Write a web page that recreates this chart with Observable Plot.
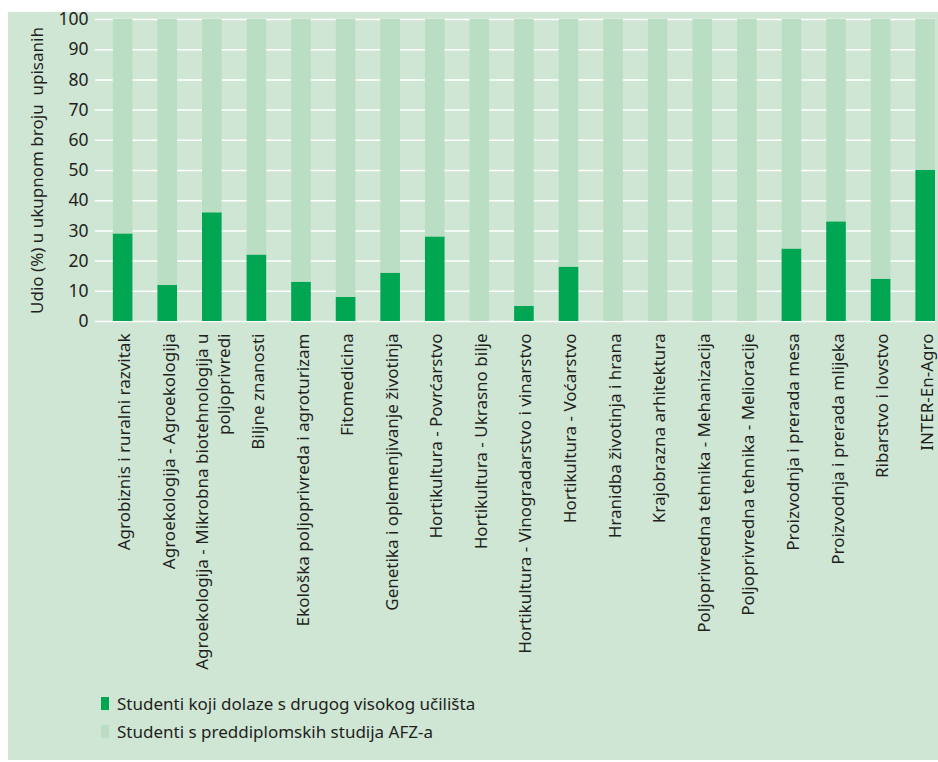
<!DOCTYPE html>
<html><head><meta charset="utf-8">
<script src="https://cdn.jsdelivr.net/npm/d3@7"></script>
<script src="https://cdn.jsdelivr.net/npm/@observablehq/plot@0.6"></script>
<style>
body{margin:0;background:#fff;font-family:"Noto Sans",sans-serif;}
#panel{position:absolute;left:8px;top:12px;width:930px;height:748px;background:#cfe6d4;}
#panel svg{overflow:visible}
.legend{margin-left:93px;margin-top:5px;color:#231f20;font-size:17px}
.item{display:flex;align-items:center;height:28px}
.sw{display:inline-block;width:8px;height:13px;margin-right:8px}
</style></head><body><div id="panel"></div>
<script>
const categories = [
  "Agrobiznis i ruralni razvitak",
  "Agroekologija - Agroekologija",
  "Agroekologija - Mikrobna biotehnologija u poljoprivredi",
  "Biljne znanosti",
  "Ekološka poljoprivreda i agroturizam",
  "Fitomedicina",
  "Genetika i oplemenjivanje životinja",
  "Hortikultura - Povrćarstvo",
  "Hortikultura - Ukrasno bilje",
  "Hortikultura - Vinogradarstvo i vinarstvo",
  "Hortikultura - Voćarstvo",
  "Hranidba životinja i hrana",
  "Krajobrazna arhitektura",
  "Poljoprivredna tehnika - Mehanizacija",
  "Poljoprivredna tehnika - Melioracije",
  "Proizvodnja i prerada mesa",
  "Proizvodnja i prerada mlijeka",
  "Ribarstvo i lovstvo",
  "INTER-En-Agro"
];
const tickLabels = [
  "Agrobiznis i ruralni razvitak",
  "Agroekologija - Agroekologija",
  "Agroekologija - Mikrobna biotehnologija u\npoljoprivredi",
  "Biljne znanosti",
  "Ekološka poljoprivreda i agroturizam",
  "Fitomedicina",
  "Genetika i oplemenjivanje životinja",
  "Hortikultura - Povrćarstvo",
  "Hortikultura - Ukrasno bilje",
  "Hortikultura - Vinogradarstvo i vinarstvo",
  "Hortikultura - Voćarstvo",
  "Hranidba životinja i hrana",
  "Krajobrazna arhitektura",
  "Poljoprivredna tehnika - Mehanizacija",
  "Poljoprivredna tehnika - Melioracije",
  "Proizvodnja i prerada mesa",
  "Proizvodnja i prerada mlijeka",
  "Ribarstvo i lovstvo",
  "INTER-En-Agro"
];
const seriesNames = ["Studenti koji dolaze s drugog visokog učilišta", "Studenti s preddiplomskih studija AFZ-a"];
const otherSchool = [29, 12, 36, 22, 13, 8, 16, 28, 0, 5, 18, 0, 0, 0, 0, 24, 33, 14, 50];
const afzStudents = [71, 88, 64, 78, 87, 92, 84, 72, 100, 95, 82, 100, 100, 100, 100, 76, 67, 86, 50];
const yTicks = [0, 10, 20, 30, 40, 50, 60, 70, 80, 90, 100];
const colors = ["#00a651", "#badec4"];
const yLabel = "Udio (%) u ukupnom broju  upisanih";

const rows = categories.flatMap((c, i) => [
  {cat: c, series: seriesNames[0], value: otherSchool[i]},
  {cat: c, series: seriesNames[1], value: afzStudents[i]}
]);

const chart = Plot.plot({
  width: 930,
  height: 672,
  marginTop: 7,
  marginBottom: 363,
  marginLeft: 87,
  marginRight: 3,
  style: {background: "transparent", color: "#231f20", fontFamily: "'Noto Sans', sans-serif", overflow: "visible"},
  x: {domain: categories, paddingInner: 0.56, paddingOuter: 0.2, align: 1, round: false},
  y: {domain: [0, 100]},
  color: {domain: seriesNames, range: colors},
  marks: [
    Plot.gridY(yTicks, {stroke: "#ffffff", strokeOpacity: 1, strokeWidth: 1.5}),
    Plot.barY(rows, {x: "cat", y: "value", fill: "series"}),
    Plot.axisY(yTicks, {tickSize: 0, tickPadding: 7, fontSize: 17.5, label: null}),
    Plot.axisY({ticks: [], tickSize: 0, fontSize: 17, label: yLabel, labelAnchor: "center", labelArrow: "none", labelOffset: 65}),
    Plot.axisX({tickSize: 0, tickPadding: 12, tickRotate: -90, fontSize: 17, lineHeight: 1.3, label: null,
      tickFormat: d => tickLabels[categories.indexOf(d)]})
  ]
});
const panel = document.getElementById("panel");
panel.appendChild(chart);
const legend = document.createElement("div");
legend.className = "legend";
seriesNames.forEach((s, i) => {
  const it = document.createElement("div");
  it.className = "item";
  const sw = document.createElement("span");
  sw.className = "sw";
  sw.style.background = colors[i];
  const t = document.createElement("span");
  t.textContent = s;
  it.appendChild(sw); it.appendChild(t);
  legend.appendChild(it);
});
panel.appendChild(legend);
</script></body></html>
